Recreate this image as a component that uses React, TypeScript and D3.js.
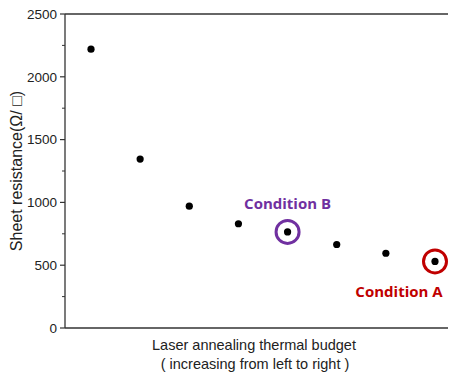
import React from "react";
import * as d3 from "d3";

const categories = [1, 2, 3, 4, 5, 6, 7, 8];
const resistance = [2220, 1345, 970, 830, 765, 665, 595, 530];
const yTicks = [0, 500, 1000, 1500, 2000, 2500];
const yMinorTicks = [250, 750, 1250, 1750, 2250];
const highlights = [
  { index: 4, label: "Condition B", color: "#7030A0", dx: 0, dy: -23 },
  { index: 7, label: "Condition A", color: "#C00000", dx: -36, dy: 36 },
];

export default function App() {
  const W = 449, H = 378;
  const left = 65, right = 448, top = 14, bottom = 328;
  const xs = d3.scalePoint<number>().domain(categories).range([91, 435]);
  const y = d3.scaleLinear().domain([0, 2500]).range([bottom, top]);
  const font = "Liberation Sans, Arial, sans-serif";
  return (
    <svg width={W} height={H} style={{ position: "absolute", left: 0, top: 0 }}>
      <rect width={W} height={H} fill="#fff" />
      <line x1={left} x2={right} y1={top} y2={top} stroke="#333" strokeWidth={1.3} />
      <line x1={left} x2={right} y1={bottom} y2={bottom} stroke="#333" strokeWidth={1.3} />
      <line x1={left} x2={left} y1={top} y2={bottom} stroke="#333" strokeWidth={1.3} />
      {yTicks.map((t) => (
        <g key={t}>
          <line x1={left - 5} x2={left} y1={y(t)} y2={y(t)} stroke="#333" strokeWidth={1.2} />
          <text x={left - 8} y={y(t)} dy="0.35em" textAnchor="end" fontSize={13.5} fontFamily={font} fill="#222">
            {t}
          </text>
        </g>
      ))}
      {yMinorTicks.map((t) => (
        <line key={t} x1={left - 3} x2={left} y1={y(t)} y2={y(t)} stroke="#333" strokeWidth={1} />
      ))}
      <text
        transform={`translate(16,${(top + bottom) / 2}) rotate(-90)`}
        textAnchor="middle"
        dy="0.35em"
        fontSize={16}
        fontFamily={font}
        fill="#222"
      >
        Sheet resistance(Ω/ □)
      </text>
      {categories.map((c, i) => (
        <circle key={c} cx={xs(c)} cy={y(resistance[i])} r={3.6} fill="#000" />
      ))}
      {highlights.map((h) => {
        const cx = xs(categories[h.index])!;
        const cy = y(resistance[h.index]);
        return (
          <g key={h.label}>
            <circle cx={cx} cy={cy} r={11.5} fill="none" stroke={h.color} strokeWidth={3} />
            <text
              x={cx + h.dx}
              y={cy + h.dy}
              textAnchor="middle"
              fontSize={15}
              fontWeight="bold"
              fontFamily="Open Sans, sans-serif"
              fill={h.color}
            >
              {h.label}
            </text>
          </g>
        );
      })}
      <text x={254} y={350} textAnchor="middle" fontSize={14.5} fontFamily={font} fill="#222">
        Laser annealing thermal budget
      </text>
      <text x={255} y={369} textAnchor="middle" fontSize={14.5} fontFamily={font} fill="#222">
        ( increasing from left to right )
      </text>
    </svg>
  );
}
